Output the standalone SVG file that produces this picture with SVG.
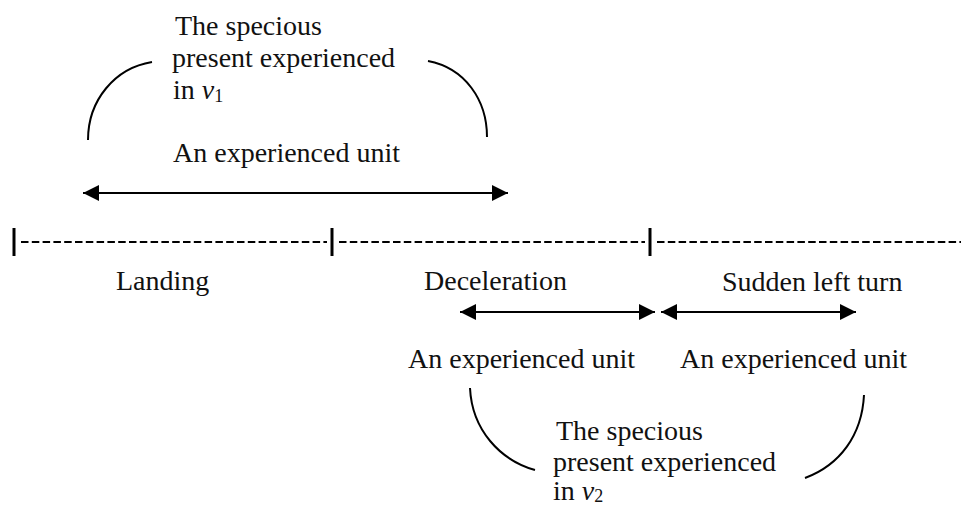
<svg xmlns="http://www.w3.org/2000/svg" width="961" height="506" viewBox="0 0 961 506">
<style>
text{font-family:"Liberation Serif","Times New Roman",serif;font-size:28px;fill:#111}
.it{font-style:italic}
.sub{font-size:18px}
.ln{stroke:#000;stroke-width:2;fill:none}
.arr{stroke:#000;stroke-width:2;fill:none;marker-start:url(#ah);marker-end:url(#ah)}
.bar{stroke:#000;stroke-width:3}
.dash{stroke:#000;stroke-width:2;stroke-dasharray:7.5 3.3}
</style>
<defs>
<marker id="ah" markerUnits="userSpaceOnUse" markerWidth="16" markerHeight="16" refX="16" refY="8" orient="auto-start-reverse" viewBox="0 0 16 16">
<path d="M0,0 L16,8 L0,16 z" fill="#000"/>
</marker>
</defs>
<g id="timeline">
<line class="bar" x1="14" y1="228" x2="14" y2="256"/>
<line class="bar" x1="332" y1="228" x2="332" y2="256"/>
<line class="bar" x1="650" y1="228" x2="650" y2="256"/>
<line class="dash" x1="21" y1="242" x2="327" y2="242"/>
<line class="dash" x1="339" y1="242" x2="645" y2="242"/>
<line class="dash" x1="657" y1="242" x2="961" y2="242"/>
</g>
<g id="specious-present-v1">
<text x="175" y="35">The specious</text>
<text x="172" y="67">present experienced</text>
<text x="173" y="99">in <tspan class="it">v</tspan><tspan class="sub" dy="3">1</tspan></text>
</g>
<g id="unit-top"><text x="173" y="162">An experienced unit</text></g>
<g id="landing"><text x="116" y="290">Landing</text></g>
<g id="deceleration"><text x="424" y="290">Deceleration</text></g>
<g id="sudden-left-turn"><text x="722" y="291">Sudden left turn</text></g>
<g id="unit-left"><text x="408" y="368">An experienced unit</text></g>
<g id="unit-right"><text x="680" y="368">An experienced unit</text></g>
<g id="specious-present-v2">
<text x="556" y="440">The specious</text>
<text x="553" y="471">present experienced</text>
<text x="553" y="500">in <tspan class="it">v</tspan><tspan class="sub" dy="2">2</tspan></text>
</g>
<g id="connectors">
<path class="ln" d="M88,140 C88,100 115,68 152,62"/>
<path class="ln" d="M428,61 C465,68 487,100 487,137"/>
<line class="arr" x1="83" y1="193" x2="508" y2="193"/>
<line class="arr" x1="460" y1="312" x2="655" y2="312"/>
<line class="arr" x1="661" y1="312" x2="856" y2="312"/>
<path class="ln" d="M470,388 C472,430 500,460 535,470"/>
<path class="ln" d="M864,395 C862,435 840,465 805,478"/>
</g>
</svg>
